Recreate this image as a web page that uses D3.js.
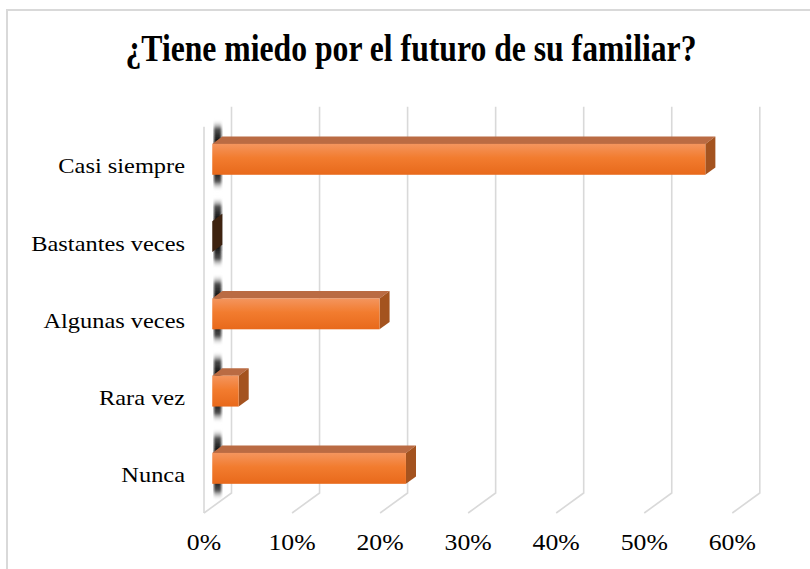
<!DOCTYPE html>
<html>
<head>
<meta charset="utf-8">
<script src="https://cdn.jsdelivr.net/npm/d3@7"></script>
<style>
  body { margin: 0; background: #fff; }
  text { font-family: "Liberation Serif", "Times New Roman", serif; fill: #000; }
</style>
</head>
<body>
<svg id="chart"></svg>
<script>
const width = 810, height = 569;

// data
const categories = ["Casi siempre", "Bastantes veces", "Algunas veces", "Rara vez", "Nunca"];
const values = [0.56, 0, 0.19, 0.03, 0.22];
const ticks = [0, 0.1, 0.2, 0.3, 0.4, 0.5, 0.6];
const title = "¿Tiene miedo por el futuro de su familiar?";

// 3d depth of the plot box (front plane -> back plane)
const depth_dx = 27.5, depth_dy = -20;
const bar_f0 = 0.30, bar_f1 = 0.665;   // bar sits between these depth fractions

const svg = d3.select("#chart")
    .attr("width", width)
    .attr("height", height);

// x and y in the front plane
const x = d3.scaleLinear().domain([0, 0.6]).range([204, 732.3]);
const y = d3.scaleBand().domain(categories).range([126.7, 513]).padding(0);
const bar_h = y.bandwidth() * 0.40;

function px(v, f) { return x(v) + depth_dx * f; }
function py(yy, f) { return yy + depth_dy * f; }

const defs = svg.append("defs");
const front_grad = defs.append("linearGradient")
    .attr("id", "front-grad").attr("x1", 0).attr("y1", 0).attr("x2", 0).attr("y2", 1);
front_grad.append("stop").attr("offset", "0%").attr("stop-color", "#f4955e");
front_grad.append("stop").attr("offset", "45%").attr("stop-color", "#f27c2f");
front_grad.append("stop").attr("offset", "100%").attr("stop-color", "#e8691b");

const wall_grad = defs.append("linearGradient")
    .attr("id", "wall-grad").attr("x1", 0).attr("y1", 0).attr("x2", 0).attr("y2", 1);
wall_grad.append("stop").attr("offset", "0%").attr("stop-color", "#fff").attr("stop-opacity", 0);
wall_grad.append("stop").attr("offset", "14%").attr("stop-color", "#3a3a3a").attr("stop-opacity", 0.9);
wall_grad.append("stop").attr("offset", "30%").attr("stop-color", "#111").attr("stop-opacity", 1);
wall_grad.append("stop").attr("offset", "70%").attr("stop-color", "#111").attr("stop-opacity", 1);
wall_grad.append("stop").attr("offset", "86%").attr("stop-color", "#3a3a3a").attr("stop-opacity", 0.9);
wall_grad.append("stop").attr("offset", "100%").attr("stop-color", "#fff").attr("stop-opacity", 0);

defs.append("filter").attr("id", "soft")
    .append("feGaussianBlur").attr("stdDeviation", 0.9);

// outer frame
svg.append("rect")
    .attr("x", 7).attr("y", 10)
    .attr("width", width + 20).attr("height", height + 20)
    .attr("fill", "none")
    .attr("stroke", "#d9d9d9")
    .attr("stroke-width", 2);

// title
svg.append("text")
    .attr("x", 411).attr("y", 61)
    .attr("text-anchor", "middle")
    .attr("font-size", 37)
    .attr("font-weight", "bold")
    .attr("textLength", 571)
    .attr("lengthAdjust", "spacingAndGlyphs")
    .text(title);

// gridlines: back vertical + floor diagonal
const y_top = y.range()[0], y_bot = y.range()[1];
const grid = svg.append("g").attr("class", "grid")
    .attr("stroke", "#d9d9d9").attr("stroke-width", 1.6).attr("fill", "none");
grid.selectAll("path")
    .data(ticks)
    .join("path")
    .attr("d", d => d3.line()([
        [px(d, 1), py(y_top, 1)],
        [px(d, 1), py(y_bot, 1)],
        [px(d, 0), py(y_bot, 0)]
    ]));
// front-left edge of the wall
grid.append("line")
    .attr("x1", x(0)).attr("x2", x(0))
    .attr("y1", y_top).attr("y2", y_bot);

// side wall shading around each band
svg.append("g").attr("class", "wall")
    .attr("filter", "url(#soft)")
    .selectAll("rect")
    .data(categories)
    .join("rect")
    .attr("x", px(0, 0.36))
    .attr("width", 7.5)
    .attr("y", d => py(y(d) + y.bandwidth() / 2, 0.5) - 36)
    .attr("height", 72)
    .attr("fill", "url(#wall-grad)");

// bars
const bars = svg.append("g").attr("class", "bars")
    .selectAll("g")
    .data(categories.map((c, i) => ({ cat: c, value: values[i] })))
    .join("g");

function yc(d) { return y(d.cat) + y.bandwidth() / 2; }

// top face
bars.filter(d => d.value > 0).append("path")
    .attr("fill", "#ba6b43")
    .attr("d", d => {
        const t = yc(d) - bar_h / 2;
        return d3.line()([
            [px(0, bar_f0), py(t, bar_f0)],
            [px(d.value, bar_f0), py(t, bar_f0)],
            [px(d.value, bar_f1), py(t, bar_f1)],
            [px(0, bar_f1), py(t, bar_f1)]
        ]) + "Z";
    });

// side (end) face
bars.append("path")
    .attr("fill", d => d.value > 0 ? "#a4531f" : "#3e2310")
    .attr("d", d => {
        const t = yc(d) - bar_h / 2, b = yc(d) + bar_h / 2;
        return d3.line()([
            [px(d.value, bar_f0), py(t, bar_f0)],
            [px(d.value, bar_f1), py(t, bar_f1)],
            [px(d.value, bar_f1), py(b, bar_f1)],
            [px(d.value, bar_f0), py(b, bar_f0)]
        ]) + "Z";
    });

// front face
bars.filter(d => d.value > 0).append("rect")
    .attr("x", px(0, bar_f0))
    .attr("y", d => py(yc(d) - bar_h / 2, bar_f0))
    .attr("width", d => x(d.value) - x(0))
    .attr("height", bar_h)
    .attr("fill", "url(#front-grad)");

// category labels
svg.append("g").attr("class", "y-labels")
    .selectAll("text")
    .data(categories)
    .join("text")
    .attr("transform", d => `translate(185,${y(d) + y.bandwidth() / 2 + 8}) scale(1.22,1)`)
    .attr("text-anchor", "end")
    .attr("font-size", 20)
    .text(d => d);

// value axis labels
const fmt = d3.format(".0%");
svg.append("g").attr("class", "x-labels")
    .selectAll("text")
    .data(ticks)
    .join("text")
    .attr("transform", d => `translate(${x(d)},550) scale(1.12,1)`)
    .attr("text-anchor", "middle")
    .attr("font-size", 23)
    .text(d => fmt(d));
</script>
</body>
</html>
